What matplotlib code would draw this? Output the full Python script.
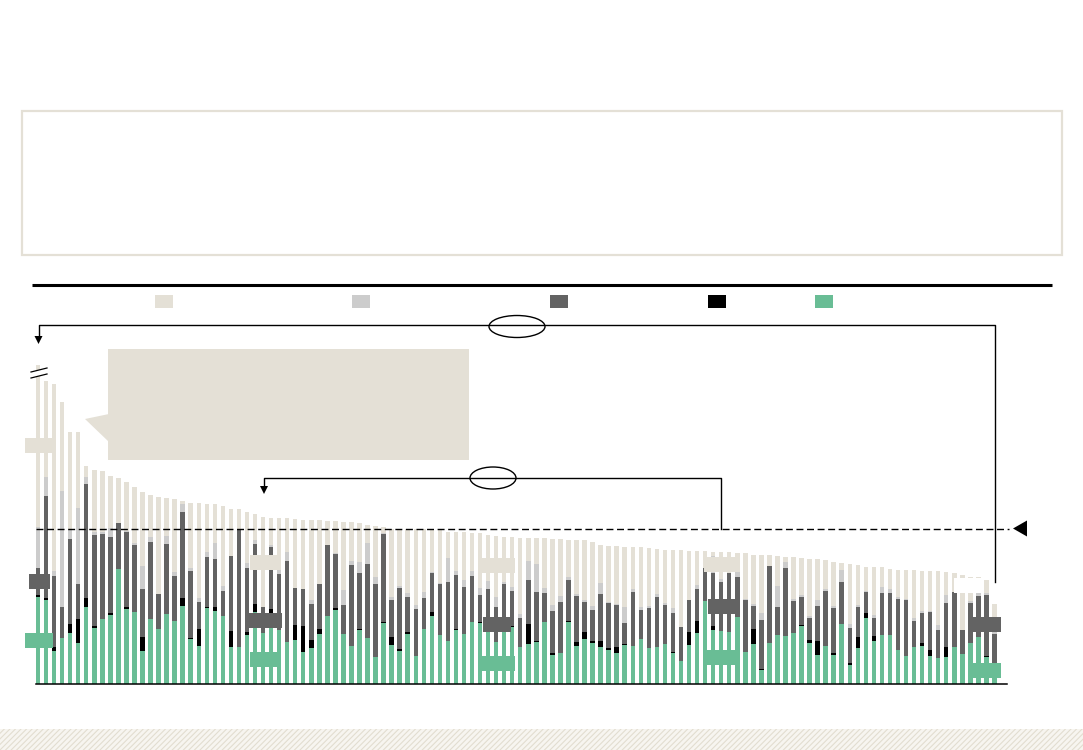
import numpy as np
import matplotlib
matplotlib.use("Agg")
import matplotlib.pyplot as plt
from matplotlib.patches import Rectangle, Ellipse, Polygon

# segment heights per bar (bottom -> top)
green = [87.3, 84, 33.3, 45.7, 51.3, 40.7, 77, 55.7, 65, 69, 114.7, 74.7, 72.3, 33.3, 65, 54.7, 69.7, 63, 78.3, 44.7,
         38, 75.7, 73.3, 68, 37.3, 37.3, 49.3, 71.7, 50.7, 70.7, 54, 42, 44, 32.3, 36, 49.7, 68.3, 74, 50.3, 38.3,
         54, 46.3, 27.3, 60.7, 39.3, 33.3, 50.3, 28.3, 55.3, 68, 49, 43.3, 54, 50, 62.3, 60.7, 54, 41.7, 51.7, 56.7,
         37.3, 40, 42, 62, 29, 31.3, 62, 38.3, 45, 41.3, 36.7, 33.7, 30.7, 39.3, 38.3, 44.7, 35.7, 37.3, 40.3, 31.3,
         22.7, 39.3, 51, 83.3, 54, 53, 52.3, 67.3, 31.7, 40, 14, 41.3, 49.3, 48, 51.3, 57.7, 41, 29.3, 38.3, 28.7,
         60, 19.3, 36.3, 65.7, 43.3, 49.3, 49.3, 34, 28.3, 37.3, 38, 28.3, 26, 27, 36.7, 30.3, 40.7, 47.3, 26.7, 17.3]
black = [1.7, 2.3, 3.4, 0, 8.7, 24.6, 9.3, 2.6, 0, 2.3, 0, 2.3, 0, 14, 0, 0, 0, 0, 8, 1,
         16.7, 1, 4, 0, 15.7, 0, 2.4, 8.3, 0, 4, 0, 0, 15.3, 26, 8.3, 5.6, 0, 2.3, 0, 0,
         0.7, 0, 0, 1, 7.4, 2, 1.7, 0, 0, 4.3, 0, 0, 1, 0, 0, 1.6, 0, 0, 0, 1.6,
         0, 20, 1, 0, 2.3, 0, 1, 3.7, 7, 1.7, 6.6, 2.3, 6.3, 1, 0, 0, 0, 0, 0, 0.7,
         0, 12.7, 12.3, 0, 4.3, 0, 0, 0, 0, 15, 1.3, 0, 0, 0, 0, 1.3, 3, 14, 0, 2.6,
         0, 1.4, 11, 5.6, 5, 0, 0, 0, 0, 0, 2.7, 6, 0, 10.3, 0, 0, 0, 0, 1.6, 0]
dark = [26.7, 102, 71.6, 31.6, 84.7, 34.7, 113.4, 90.7, 84.7, 76, 46, 74.7, 66.7, 47.4, 77.3, 35.3, 70, 45, 86, 67.6,
        27.6, 50, 47.7, 25.3, 75, 117.4, 64.6, 60, 26, 62, 55.7, 81.3, 37, 37, 35.7, 44.4, 70.4, 53.4, 29, 80.7,
        56.6, 73.7, 72.7, 88, 37.3, 60.4, 35.3, 47, 31, 38.7, 51.3, 59, 54, 47.3, 45.7, 26.7, 41, 35.6, 48.3, 35,
        29, 44, 48.7, 29.3, 42, 51, 41.3, 46.3, 30.3, 30.7, 47, 45.3, 42, 21, 54, 29.3, 40.6, 49.4, 38.7, 38.7,
        34.6, 32, 32, 32.4, 53, 49.3, 59, 40, 52.3, 23.3, 48.7, 77, 28, 68, 31.7, 28.3, 22.3, 34.7, 55, 44.4,
        42, 35.6, 30, 20.7, 18, 42, 42, 51.3, 55.7, 26, 30.6, 38, 28, 44, 55.6, 24, 40.6, 40.7, 61, 32.4]
light = [41.6, 18.4, 5, 115.7, 9.3, 76.3, 7.6, 2.7, 2.6, 8.4, 0.6, 1.6, 2.3, 23.6, 5, 0, 8.6, 4, 7.4, 2.7,
         4, 5.3, 15.7, 5, 0, 0, 4.4, 4, 0, 2.3, 7.6, 9, 0, 0, 4, 0, 0, 1.6, 14.7, 4.3,
         11, 21.3, 6.7, 1.6, 3.3, 2.3, 3.4, 3.7, 6, 1.3, 1, 24, 4.3, 6.7, 5.3, 6.7, 8, 10, 1.7, 4,
         3.7, 19.3, 28.3, 5, 5.7, 5.7, 2.4, 1.7, 1.7, 4.3, 11, 1, 1, 15.4, 2.7, 3.3, 1.7, 3.3, 1.7, 5.3,
         0, 0, 3.7, 0, 16.7, 3, 0, 5, 0.7, 1.7, 7.3, 0, 20.7, 6.3, 2.3, 2, 2, 6, 1.4, 2.3,
         12, 3.7, 2, 1.3, 2.7, 6, 4, 2, 0.7, 3, 2, 0.4, 5, 7.7, 0, 0, 1.7, 2.7, 2, 2.3]
beige = [161.7, 96.6, 186.7, 89, 98.3, 76, 10.7, 62.3, 60.7, 52.3, 45, 49, 56, 73.7, 42, 97.3, 38, 72.7, 3.6, 64.7,
         94.4, 48, 39.3, 79.7, 47, 20.3, 51.3, 25.7, 90.6, 27.3, 49, 34, 69, 68.7, 80, 64.3, 24.6, 32, 68.3, 38.4,
         38.4, 17.4, 51.3, 5.4, 67.7, 57, 64.3, 76, 62.7, 42.4, 52.7, 26, 39, 48, 38, 55, 46, 60.7, 45.3, 49.7,
         76.3, 23, 25.7, 49.4, 66, 57, 37.6, 54, 60, 64.3, 37.4, 55.7, 57.7, 60.3, 41.7, 59.4, 58, 44.7, 53.3, 58,
         76.4, 49.3, 34.3, 17.6, 4, 26.7, 20.7, 19, 46, 49.3, 58, 11, 30, 4.4, 41.4, 36.7, 56.4, 40.7, 29.3, 44,
         6.7, 60, 39.7, 23.7, 47.7, 19.4, 20, 27, 29.6, 47.7, 40, 40.6, 53.7, 23, 18.4, 54.7, 24.3, 16, 12.7, 27.7]
threshold = 155.5

c_beige = "#e4e0d6"
c_light = "#cccccc"
c_dark = "#636363"
c_black = "#000000"
c_green = "#69bd95"

W, H = 1083, 750
fig = plt.figure(figsize=(W / 100, H / 100), dpi=100)
fig.patch.set_facecolor("white")

# ---- stacked bars ----
ax = fig.add_axes([36 / W, (H - 684) / H, (1006.5 - 36) / W, 330 / H])
x = np.arange(len(green))
bottom = np.zeros(len(green))
for vals, col in [(green, c_green), (black, c_black), (dark, c_dark), (light, c_light), (beige, c_beige)]:
    ax.bar(x, vals, bottom=bottom, width=0.56, color=col, linewidth=0)
    bottom += np.array(vals)
ax.set_xlim(-0.25, 120.5)
ax.set_ylim(0, 330)
for s in ["top", "right", "left"]:
    ax.spines[s].set_visible(False)
ax.spines["bottom"].set_linewidth(1.1)
ax.set_xticks([])
ax.set_yticks([])
ax.patch.set_alpha(0)

# ---- overlay in pixel coordinates for the decorations ----
ov = fig.add_axes([0, 0, 1, 1])
ov.set_xlim(0, W)
ov.set_ylim(H, 0)
ov.axis("off")
ov.patch.set_alpha(0)

# hatched strip at the bottom
plt.rcParams["hatch.linewidth"] = 0.8
ov.add_patch(Rectangle((0, 729), W, 21, facecolor="#f7f5f0", edgecolor="#e2ddd0", hatch="//////", linewidth=0))

# intro box and rule
ov.add_patch(Rectangle((22, 111), 1040, 144, fill=False, edgecolor=c_beige, linewidth=1.6))
ov.plot([32, 1052], [285, 285], color="black", lw=2.2, solid_capstyle="butt")

# legend swatches
for lx, col in [(155, c_beige), (352, c_light), (550, c_dark), (708, c_black), (815, c_green)]:
    ov.add_patch(Rectangle((lx, 295), 18, 13, facecolor=col, linewidth=0))

# threshold line with marker
ov.plot([36, 1009], [684 - threshold, 684 - threshold], color="black", lw=1.0, dashes=(5, 2.6))
ov.add_patch(Rectangle((486, 522), 20, 12, facecolor="white", linewidth=0))
ov.add_patch(Polygon([(1013, 528.5), (1027, 520.5), (1027, 536.5)], closed=True, facecolor="black", linewidth=0))

# upper bracket
ov.plot([38.5, 38.5, 995, 995], [337, 325, 325, 582], color="black", lw=1.0)
ov.add_patch(Polygon([(34.5, 336), (42.5, 336), (38.5, 344)], closed=True, facecolor="black", linewidth=0))
ov.add_patch(Ellipse((517, 326.5), 56, 22, facecolor="white", edgecolor="black", linewidth=1.0))

# lower bracket
ov.plot([264, 264, 721, 721], [487, 478, 478, 528.5], color="black", lw=1.0)
ov.add_patch(Polygon([(260, 486), (268, 486), (264, 494)], closed=True, facecolor="black", linewidth=0))
ov.add_patch(Ellipse((493, 478), 46, 22, facecolor="white", edgecolor="black", linewidth=1.0))

# callout
ov.add_patch(Rectangle((108, 349), 361, 111, facecolor=c_beige, linewidth=0))
ov.add_patch(Polygon([(85, 419), (109, 414), (109, 442)], closed=True, facecolor=c_beige, linewidth=0))

# axis break on the first bar
ov.add_patch(Polygon([(31, 372), (47, 368), (47, 374), (31, 378)], closed=True, facecolor="white", linewidth=0))
ov.plot([31, 47], [372, 368], color="black", lw=0.9)
ov.plot([31, 47], [378, 374], color="black", lw=0.9)

# label boxes (text stripped)
label_boxes = [
    (25, 438, 28, 15, c_beige), (29, 574, 21, 15, c_dark), (25, 633, 28, 15, c_green),
    (250, 555, 31, 15, c_beige), (247, 613, 35, 15, c_dark), (250, 652, 31, 15, c_green),
    (480, 558, 35, 15, c_beige), (483, 617, 28, 15, c_dark), (480, 656, 35, 15, c_green),
    (704, 557, 36, 15, c_beige), (708, 599, 32, 15, c_dark), (704, 650, 36, 15, c_green),
    (954, 578, 29, 15, "white"), (968, 617, 33, 15, c_dark), (968, 663, 33, 15, c_green),
]
for bx, by, bw, bh, col in label_boxes:
    ov.add_patch(Rectangle((bx, by), bw, bh, facecolor=col, linewidth=0))

fig.savefig("out.png", dpi=100)
